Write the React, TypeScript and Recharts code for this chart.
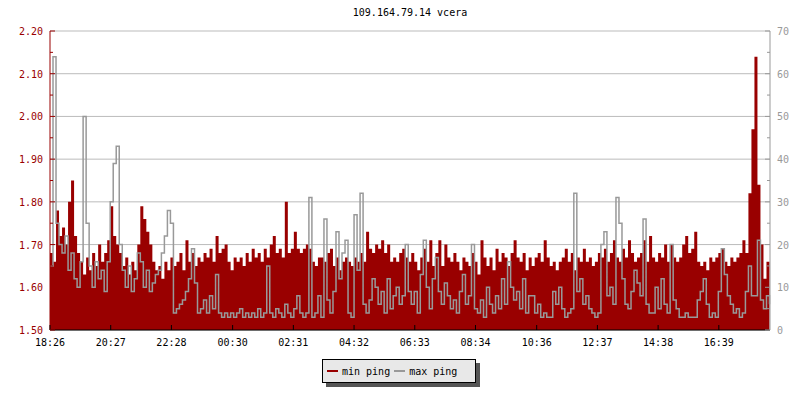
import { ComposedChart, Area, Line, XAxis, YAxis, CartesianGrid } from 'recharts';

const RED = '#990000';
const GRAY = '#999999';
const FONT = '"DejaVu Sans Mono", monospace';

const title = '109.164.79.14 vcera';
const xTickLabels = ['18:26', '20:27', '22:28', '00:30', '02:31', '04:32', '06:33', '08:34', '10:36', '12:37', '14:38', '16:39'];
const leftTicks = [1.5, 1.55, 1.6, 1.65, 1.7, 1.75, 1.8, 1.85, 1.9, 1.95, 2.0, 2.05, 2.1, 2.15, 2.2];
const leftGrid = [1.5, 1.6, 1.7, 1.8, 1.9, 2.0, 2.1, 2.2];
const rightTicks = [0, 5, 10, 15, 20, 25, 30, 35, 40, 45, 50, 55, 60, 65, 70];
const stepMinutes = 6;

// min ping, left axis
const minPing = [
  1.68, 1.66, 1.78, 1.72, 1.74, 1.70, 1.80, 1.85, 1.72, 1.68,
  1.66, 1.63, 1.67, 1.64, 1.68, 1.65, 1.70, 1.66, 1.68, 1.71,
  1.79, 1.72, 1.70, 1.68, 1.65, 1.67, 1.63, 1.66, 1.64, 1.70,
  1.79, 1.76, 1.73, 1.70, 1.66, 1.64, 1.65, 1.62, 1.66, 1.64,
  1.67, 1.65, 1.66, 1.68, 1.64, 1.71, 1.66, 1.68, 1.65, 1.67,
  1.66, 1.68, 1.67, 1.69, 1.66, 1.72, 1.68, 1.69, 1.70, 1.66,
  1.64, 1.67, 1.66, 1.67, 1.65, 1.68, 1.66, 1.69, 1.67, 1.68,
  1.66, 1.69, 1.67, 1.70, 1.72, 1.68, 1.69, 1.67, 1.80, 1.68,
  1.69, 1.73, 1.69, 1.68, 1.69, 1.70, 1.69, 1.66, 1.65, 1.67,
  1.67, 1.66, 1.68, 1.69, 1.65, 1.67, 1.64, 1.66, 1.67, 1.66,
  1.65, 1.67, 1.66, 1.68, 1.66, 1.73, 1.69, 1.68, 1.70, 1.69,
  1.71, 1.68, 1.70, 1.66, 1.67, 1.66, 1.68, 1.69, 1.67, 1.66,
  1.68, 1.66, 1.64, 1.67, 1.69, 1.66, 1.71, 1.65, 1.68, 1.71,
  1.65, 1.70, 1.67, 1.66, 1.68, 1.66, 1.64, 1.67, 1.66, 1.65,
  1.68, 1.66, 1.63, 1.71, 1.67, 1.65, 1.67, 1.64, 1.69, 1.66,
  1.68, 1.67, 1.65, 1.68, 1.71, 1.67, 1.66, 1.68, 1.64, 1.67,
  1.65, 1.67, 1.68, 1.66, 1.71, 1.67, 1.65, 1.66, 1.64, 1.66,
  1.67, 1.69, 1.66, 1.68, 1.64, 1.67, 1.66, 1.69, 1.66, 1.67,
  1.65, 1.66, 1.68, 1.67, 1.69, 1.66, 1.68, 1.71, 1.67, 1.66,
  1.69, 1.67, 1.71, 1.68, 1.66, 1.67, 1.68, 1.71, 1.66, 1.72,
  1.67, 1.66, 1.68, 1.67, 1.70, 1.66, 1.70, 1.67, 1.66, 1.67,
  1.70, 1.72, 1.68, 1.69, 1.73, 1.66, 1.65, 1.66, 1.64, 1.67,
  1.66, 1.67, 1.68, 1.69, 1.66, 1.65, 1.67, 1.66, 1.67, 1.68,
  1.71, 1.68, 1.82, 1.97, 2.14, 1.84, 1.70, 1.62, 1.66, 1.68,
];

// max ping, right axis
const maxPing = [
  15, 64, 25, 20, 18, 22, 14, 18, 12, 10,
  16, 50, 25, 15, 10, 16, 12, 14, 9, 16,
  30, 39, 43, 20, 14, 10, 15, 9, 12, 18,
  16, 10, 14, 9, 11, 13, 14, 18, 22, 28,
  25, 4, 5, 6, 7, 9, 12, 19, 11, 4,
  5, 7, 4, 8, 5, 13, 4, 3, 4, 3,
  4, 3, 4, 5, 3, 4, 3, 4, 3, 5,
  3, 4, 15, 4, 3, 5, 4, 3, 6, 4,
  3, 5, 8, 4, 3, 4, 31, 3, 4, 8,
  3, 26, 7, 4, 9, 23, 12, 18, 21, 4,
  3, 27, 14, 32, 6, 4, 7, 12, 10, 6,
  9, 4, 12, 5, 8, 10, 6, 8, 20, 9,
  6, 9, 4, 13, 21, 10, 5, 12, 17, 9,
  6, 11, 8, 5, 7, 4, 9, 13, 6, 8,
  20, 5, 4, 7, 3, 10, 6, 4, 8, 5,
  12, 6, 16, 10, 7, 9, 5, 12, 4, 8,
  8, 4, 6, 3, 4, 3, 3, 9, 6, 10,
  5, 3, 4, 5, 32, 9, 12, 6, 8, 5,
  4, 3, 4, 20, 23, 8, 10, 6, 31, 25,
  12, 6, 5, 9, 14, 11, 8, 26, 6, 4,
  4, 10, 5, 12, 6, 4, 20, 7, 5, 3,
  3, 4, 3, 3, 3, 7, 9, 12, 6, 3,
  4, 3, 9, 19, 13, 8, 6, 4, 5, 3,
  4, 9, 15, 8, 8, 21, 7, 5, 8, 6,
];

const data = minPing.map((v, i) => ({ t: i * stepMinutes, min: v, max: maxPing[i] }));

// minutes since the first label, wrapping past midnight
const toMin = (s: string) => {
  const [h, m] = s.split(':').map(Number);
  return h * 60 + m;
};
const start = toMin(xTickLabels[0]);
const xTicks = xTickLabels.map((l) => (toMin(l) - start + 1440) % 1440);

const LeftTick = (props: any) => {
  const { x, y, payload } = props;
  const v = payload.value as number;
  const major = Math.round(v * 100) % 10 === 0;
  return (
    <g>
      <line x1={x + 7} x2={x + 7 + (major ? 5 : 3)} y1={y} y2={y} stroke={RED} />
      {major && (
        <text x={x} y={y + 4} textAnchor="end" fill={RED} fontSize={10} fontFamily={FONT}>
          {v.toFixed(2)}
        </text>
      )}
    </g>
  );
};

const RightTick = (props: any) => {
  const { x, y, payload } = props;
  const v = payload.value as number;
  const major = v % 10 === 0;
  return (
    <g>
      <line x1={x - 7} x2={x - 7 - (major ? 5 : 3)} y1={y} y2={y} stroke={GRAY} />
      {major && (
        <text x={x} y={y + 4} textAnchor="start" fill={GRAY} fontSize={10} fontFamily={FONT}>
          {v}
        </text>
      )}
    </g>
  );
};

const BottomTick = (props: any) => {
  const { x, y, payload } = props;
  const i = xTicks.indexOf(payload.value);
  return (
    <g>
      <line x1={x} x2={x} y1={y} y2={y - 5} stroke="#000" />
      <text x={x} y={y + 16} textAnchor="middle" fill="#000" fontSize={10} fontFamily={FONT}>
        {xTickLabels[i]}
      </text>
    </g>
  );
};

export default function App() {
  return (
    <div style={{ position: 'relative', width: 800, height: 400, background: '#fff', fontFamily: FONT }}>
      <style>{'body{margin:0}'}</style>
      <div
        style={{
          position: 'absolute', top: 7, left: 260, width: 300, textAlign: 'center',
          fontSize: 10, lineHeight: '12px', color: '#000',
        }}
      >
        {title}
      </div>
      <ComposedChart width={800} height={400} data={data} margin={{ top: 31, right: 0, left: 0, bottom: 50 }}>
        <CartesianGrid yAxisId="left" vertical={false} horizontalValues={leftGrid} stroke="#bbbbbb" />
        <XAxis
          dataKey="t"
          type="number"
          domain={[0, 1435]}
          ticks={xTicks}
          height={20}
          tickSize={0}
          tickMargin={0}
          tick={<BottomTick />}
          axisLine={{ stroke: '#000' }}
          interval={0}
        />
        <YAxis
          yAxisId="left"
          domain={[1.5, 2.2]}
          ticks={leftTicks}
          width={50}
          tickSize={0}
          tickMargin={7}
          tick={<LeftTick />}
          axisLine={{ stroke: RED }}
          interval={0}
          allowDataOverflow
        />
        <YAxis
          yAxisId="right"
          orientation="right"
          domain={[0, 70]}
          ticks={rightTicks}
          width={30}
          tickSize={0}
          tickMargin={7}
          tick={<RightTick />}
          axisLine={{ stroke: GRAY }}
          interval={0}
          allowDataOverflow
        />
        <Area
          yAxisId="left"
          type="stepAfter"
          dataKey="min"
          stroke="none"
          fill={RED}
          fillOpacity={1}
          baseValue={1.5}
          isAnimationActive={false}
        />
        <Line
          yAxisId="right"
          type="stepAfter"
          dataKey="max"
          stroke={GRAY}
          strokeWidth={1.5}
          dot={false}
          isAnimationActive={false}
        />
      </ComposedChart>
      <div
        style={{
          position: 'absolute', left: 322, top: 359, width: 154, height: 24, boxSizing: 'border-box',
          border: '1px solid #000', background: '#e8e8e8', boxShadow: '4px 4px 0 #555',
          display: 'flex', alignItems: 'center', fontSize: 10, color: '#000', paddingLeft: 4,
        }}
      >
        <span style={{ display: 'inline-block', width: 11, height: 2, background: RED, marginRight: 4 }} />
        <span style={{ marginRight: 4 }}>min ping</span>
        <span style={{ display: 'inline-block', width: 11, height: 2, background: GRAY, marginRight: 4 }} />
        <span>max ping</span>
      </div>
    </div>
  );
}
